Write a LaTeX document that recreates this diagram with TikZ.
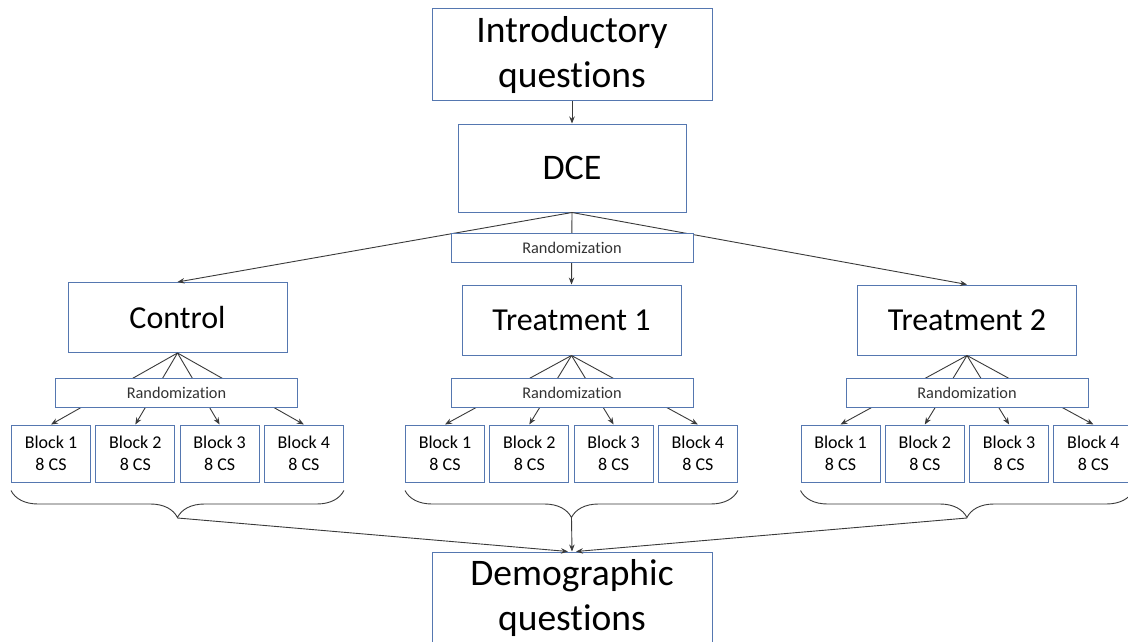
\documentclass[tikz,border=0pt]{standalone}
\usepackage{fontspec}
\setmainfont{Carlito}[RawFeature={-liga;-clig;-calt;-dlig}]
\usetikzlibrary{arrows.meta,decorations.pathreplacing}
\definecolor{boxblue}{HTML}{5577B0}
\definecolor{linegray}{HTML}{3A3A3A}

\begin{document}
\begin{tikzpicture}[x=1pt, y=-1pt, node distance={84.3pt}, >={Stealth[length=7pt,width=5.5pt]},
  main/.style = {draw=boxblue, line width=1pt, fill=white, align=center, inner sep=0pt},
  big/.style = {main, minimum width=280pt, minimum height=92pt, font=\fontsize{37.5}{45}\selectfont},
  group/.style = {main, minimum width=219pt, minimum height=70pt, font=\fontsize{32}{38}\selectfont},
  rand/.style = {main, minimum width=242pt, minimum height=29pt, font=\fontsize{16.3}{20}\selectfont, text=black!80},
  blk/.style = {main, minimum width=79pt, minimum height=57pt, font=\fontsize{18}{22.5}\selectfont},
  conn/.style = {draw=linegray, line width=0.9pt},
  curly/.style = {conn, decorate, decoration={brace, mirror, amplitude=27pt}}]
\fill[white] (0,0) rectangle (1128,642);
\clip (0,0) rectangle (1128,642);
\node[big] (intro) at (572,55) {Introductory\\questions};
\node[big, minimum width=228pt, minimum height=88pt, font=\fontsize{36}{43}\selectfont] (dce) at (572,168) {DCE};
\node[group] (ctrl) at (177.5,317.5) {Control};
\node[group] (tr1) at (571.5,320) {Treatment 1};
\node[group] (tr2) at (967,320) {Treatment 2};
\node[big] (demo) at (572,598) {Demographic\\questions};
% blocks under each group
\node[blk] (c1) at (51,453.5) {Block 1\\8 CS};
\node[blk] (c2) [right of=c1] {Block 2\\8 CS};
\node[blk] (c3) [right of=c2] {Block 3\\8 CS};
\node[blk] (c4) [right of=c3] {Block 4\\8 CS};
\node[blk] (a1) at (445,453.5) {Block 1\\8 CS};
\node[blk] (a2) [right of=a1] {Block 2\\8 CS};
\node[blk] (a3) [right of=a2] {Block 3\\8 CS};
\node[blk] (a4) [right of=a3] {Block 4\\8 CS};
\node[blk] (b1) at (840.5,453.5) {Block 1\\8 CS};
\node[blk] (b2) [right of=b1] {Block 2\\8 CS};
\node[blk] (b3) [right of=b2] {Block 3\\8 CS};
\node[blk] (b4) [right of=b3] {Block 4\\8 CS};
% connectors
\draw[conn,->] (intro) -- (dce);
\draw[conn,->] (dce.south) -- (ctrl.north);
\draw[conn,->] (dce.south) -- (tr1.north);
\draw[conn,->] (dce.south) -- (tr2.north);
\draw[conn,->] (ctrl.south) -- (c1.north);
\draw[conn,->] (ctrl.south) -- (c2.north);
\draw[conn,->] (ctrl.south) -- (c3.north);
\draw[conn,->] (ctrl.south) -- (c4.north);
\draw[conn,->] (tr1.south) -- (a1.north);
\draw[conn,->] (tr1.south) -- (a2.north);
\draw[conn,->] (tr1.south) -- (a3.north);
\draw[conn,->] (tr1.south) -- (a4.north);
\draw[conn,->] (tr2.south) -- (b1.north);
\draw[conn,->] (tr2.south) -- (b2.north);
\draw[conn,->] (tr2.south) -- (b3.north);
\draw[conn,->] (tr2.south) -- (b4.north);
% randomization boxes over the lines
\node[rand] (r0) at (572,247.5) {Randomization};
\node[rand] (rc) at (176.5,393) {Randomization};
\node[rand] (ra) at (572,393) {Randomization};
\node[rand] (rb) at (967,393) {Randomization};
% braces
\draw[curly] (c1.south west) ++(0,8) coordinate (cl) -- (c4.south east |- cl);
\draw[curly] (a1.south west) ++(0,8) coordinate (al) -- (a4.south east |- al);
\draw[curly] (b1.south west) ++(0,8) coordinate (bl) -- (b4.south east |- bl);
\coordinate (ct) at (177.5,518);
\coordinate (at) at (571.5,518);
\coordinate (bt) at (967,518);
\draw[conn,->] (ct) -- ([xshift=-4pt]demo.north);
\draw[conn,->] (at) -- (demo.north);
\draw[conn,->] (bt) -- ([xshift=4pt]demo.north);
\end{tikzpicture}
\end{document}
